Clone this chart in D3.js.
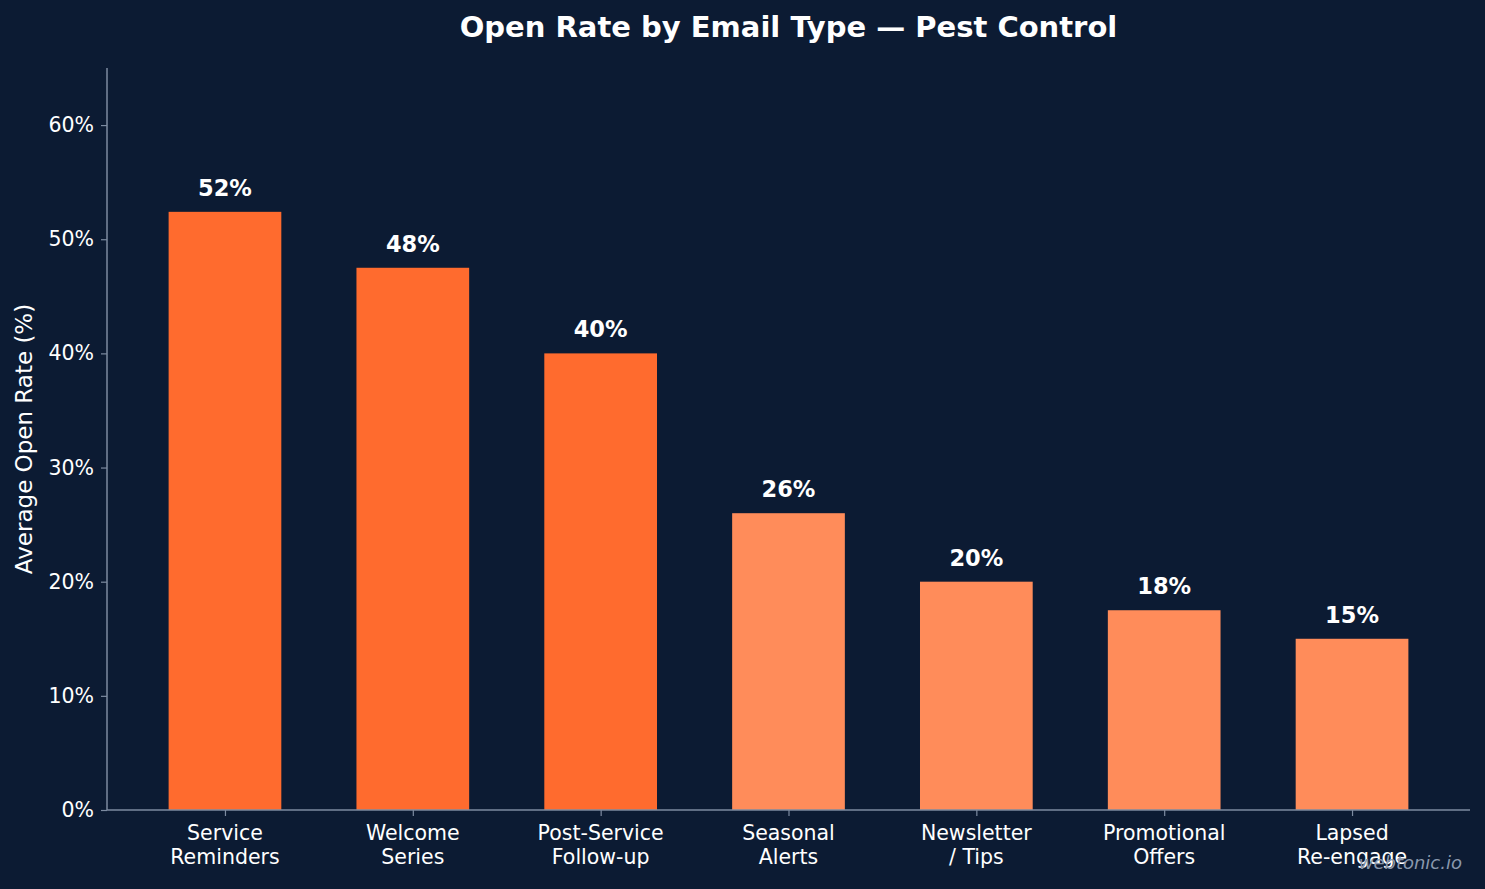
<!DOCTYPE html>
<html>
<head>
<meta charset="utf-8">
<script src="https://cdn.jsdelivr.net/npm/d3@7"></script>
<style>
  html, body { margin: 0; padding: 0; background: #0c1b33; }
  svg { display: block; font-family: 'DejaVu Sans', sans-serif; }
</style>
</head>
<body>
<div class="wrapper"></div>
<script>
const categories = [
  ['Service', 'Reminders'],
  ['Welcome', 'Series'],
  ['Post-Service', 'Follow-up'],
  ['Seasonal', 'Alerts'],
  ['Newsletter', '/ Tips'],
  ['Promotional', 'Offers'],
  ['Lapsed', 'Re-engage'],
]
const openRates = [52.4, 47.5, 40, 26, 20, 17.5, 15]
const highlighted = [true, true, true, false, false, false, false]
const yTicks = [0, 10, 20, 30, 40, 50, 60]

const width = 1485,
  height = 889,
  margin = { top: 68, right: 15, bottom: 79, left: 107 }

const bg = '#0c1b33'
const axisColor = '#7d8ba1'

const svg = d3.select('.wrapper')
  .append('svg')
  .attr('width', width)
  .attr('height', height)

svg.append('rect')
  .attr('width', width)
  .attr('height', height)
  .attr('fill', bg)

const x = d3.scaleLinear()
  .domain([-0.628, categories.length - 1 + 0.628])
  .range([margin.left, width - margin.right])

const y = d3.scaleLinear()
  .domain([0, 65])
  .range([height - margin.bottom, margin.top])

const barWidth = x(0.6) - x(0)

// bars
svg.selectAll('.bar')
  .data(openRates)
  .enter().append('rect')
  .attr('class', 'bar')
  .attr('x', (d, i) => x(i) - barWidth / 2)
  .attr('y', d => y(d))
  .attr('width', barWidth)
  .attr('height', d => y(0) - y(d))
  .attr('fill', (d, i) => highlighted[i] ? '#ff6b2e' : '#ff8c5a')

// value labels
svg.selectAll('.val')
  .data(openRates)
  .enter().append('text')
  .attr('class', 'val')
  .attr('x', (d, i) => x(i))
  .attr('y', d => y(d) - 16)
  .attr('text-anchor', 'middle')
  .attr('fill', 'white')
  .attr('font-weight', 'bold')
  .attr('font-size', '22.5px')
  .text(d => d3.format('.0f')(d) + '%')

// y axis
const yAxis = svg.append('g')
  .attr('transform', `translate(${margin.left},0)`)
  .call(d3.axisLeft(y).tickValues(yTicks).tickSize(6).tickPadding(7).tickFormat(d => d + '%'))
yAxis.select('.domain').attr('stroke', axisColor).attr('stroke-width', 1.5)
  .attr('d', `M0,${y(0)}V${margin.top}`)
yAxis.selectAll('.tick line').attr('stroke', axisColor).attr('stroke-width', 1.2)
yAxis.selectAll('.tick text')
  .attr('fill', 'white')
  .attr('font-size', '20.5px')
  .attr('font-family', 'DejaVu Sans')

// x axis
const xAxis = svg.append('g')
  .attr('transform', `translate(0,${y(0)})`)
  .call(d3.axisBottom(x).tickValues(d3.range(categories.length)).tickSize(6).tickFormat(''))
xAxis.select('.domain').attr('stroke', axisColor).attr('stroke-width', 1.5)
  .attr('d', `M${margin.left},0H${width - margin.right}`)
xAxis.selectAll('.tick line').attr('stroke', axisColor).attr('stroke-width', 1.2)

const catLabels = svg.selectAll('.cat')
  .data(categories)
  .enter().append('text')
  .attr('class', 'cat')
  .attr('text-anchor', 'middle')
  .attr('fill', 'white')
  .attr('font-size', '20.5px')
catLabels.selectAll('tspan')
  .data((d, i) => d.map(line => ({ line, i })))
  .enter().append('tspan')
  .attr('x', d => x(d.i))
  .attr('y', (d, j) => y(0) + 30 + j * 23.5)
  .text(d => d.line)

// y label
svg.append('text')
  .attr('transform', `translate(32,439) rotate(-90)`)
  .attr('text-anchor', 'middle')
  .attr('fill', 'white')
  .attr('font-size', '23px')
  .text('Average Open Rate (%)')

// title
svg.append('text')
  .attr('x', (margin.left + width - margin.right) / 2)
  .attr('y', 37)
  .attr('text-anchor', 'middle')
  .attr('fill', 'white')
  .attr('font-weight', 'bold')
  .attr('font-size', '29px')
  .text('Open Rate by Email Type — Pest Control')

// watermark
svg.append('text')
  .attr('x', 1462)
  .attr('y', 869)
  .attr('text-anchor', 'end')
  .attr('fill', '#8a98ad')
  .attr('font-style', 'italic')
  .attr('font-size', '18px')
  .text('webtonic.io')
</script>
</body>
</html>
